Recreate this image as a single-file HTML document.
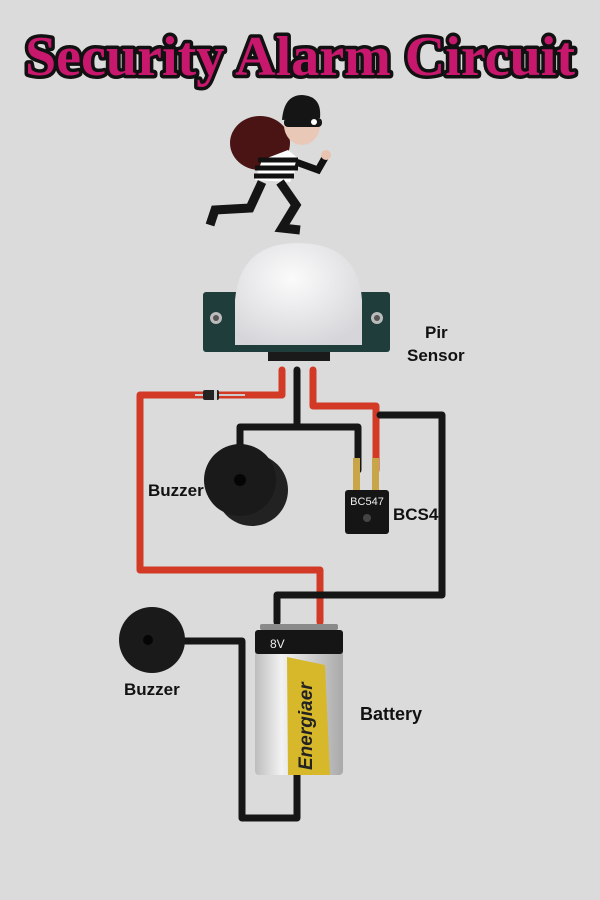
<!DOCTYPE html>
<html><head><meta charset="utf-8"><style>
body{margin:0;background:#dadada}
svg{display:block}
</style></head><body>
<svg width="600" height="900" viewBox="0 0 600 900" xmlns="http://www.w3.org/2000/svg" style="font-family:'Liberation Sans',sans-serif">
<defs>
<linearGradient id="silver" x1="0" x2="1"><stop offset="0" stop-color="#bdbdbd"/><stop offset="0.3" stop-color="#f2f2f2"/><stop offset="1" stop-color="#a9a9a9"/></linearGradient>
<radialGradient id="dome" cx="0.45" cy="0.35" r="0.7"><stop offset="0" stop-color="#fbfbfb"/><stop offset="1" stop-color="#d6d6da"/></radialGradient>
</defs>
<rect width="600" height="900" fill="#dbdbdb"/>
<!-- Title -->
<text x="300" y="75" text-anchor="middle" style="font-family:'Liberation Serif',serif;font-weight:bold" font-size="56" fill="#c8186e" stroke="#111" stroke-width="7" paint-order="stroke" stroke-linejoin="round" textLength="550" lengthAdjust="spacingAndGlyphs">Security Alarm Circuit</text>

<!-- Thief -->
<ellipse cx="260" cy="143" rx="30" ry="27" fill="#4a1414"/>
<path d="M288 150 L262 160 L255 180 L290 182 L300 160Z" fill="#fff"/>
<g stroke="#111" stroke-width="5"><line x1="258" y1="160" x2="298" y2="160"/><line x1="255" y1="168" x2="298" y2="168"/><line x1="254" y1="176" x2="294" y2="176"/></g>
<path d="M296 162 L318 170 L326 156" stroke="#111" stroke-width="7" fill="none"/>
<circle cx="326" cy="155" r="5" fill="#e7c3b0"/>
<ellipse cx="302" cy="125" rx="18" ry="20" fill="#e9c8b8"/>
<path d="M282 120 Q284 95 302 95 Q322 96 320 118Z" fill="#151515"/>
<rect x="284" y="118" width="38" height="9" rx="4" fill="#151515"/>
<circle cx="314" cy="122" r="3" fill="#fff"/>
<path d="M262 182 L250 208 L215 210 L210 225" stroke="#151515" stroke-width="9" fill="none"/>
<path d="M280 182 L296 205 L282 228 L300 230" stroke="#151515" stroke-width="9" fill="none"/>

<!-- PIR board -->
<rect x="203" y="292" width="187" height="60" rx="3" fill="#1e3d3b"/>
<circle cx="216" cy="318" r="6" fill="#bbb"/><circle cx="216" cy="318" r="3" fill="#555"/>
<circle cx="377" cy="318" r="6" fill="#bbb"/><circle cx="377" cy="318" r="3" fill="#555"/>
<path d="M235 345 L235 300 Q240 243 298 243 Q358 243 362 300 L362 345Z" fill="url(#dome)"/>
<rect x="268" y="352" width="62" height="9" fill="#1a1a1a"/>

<!-- wires -->
<g fill="none" stroke-width="7" stroke-linejoin="round" stroke-linecap="round">
<path d="M282 370 L282 395 L140 395 L140 570 L320 570 L320 622" stroke="#d23a25"/>
<path d="M297 370 L297 427 M240 445 L240 427 L358 427 L358 470" stroke="#161616"/>
<path d="M313 370 L313 406 L376 406 L376 470" stroke="#d23a25"/>
<path d="M380 415 L442 415 L442 595 L277 595 L277 622" stroke="#161616"/>
<path d="M185 641 L242 641 L242 818 L297 818 L297 775" stroke="#161616"/>
</g>
<rect x="203" y="390" width="16" height="10" rx="2" fill="#222"/><rect x="214" y="390" width="3" height="10" fill="#ccc"/>
<g stroke="#ccc" stroke-width="2"><line x1="195" y1="395" x2="203" y2="395"/><line x1="219" y1="395" x2="245" y2="395"/></g>

<!-- buzzer 1 -->
<ellipse cx="252" cy="490" rx="36" ry="36" fill="#222"/>
<ellipse cx="240" cy="480" rx="36" ry="36" fill="#1a1a1a"/>
<circle cx="240" cy="480" r="6" fill="#050505"/>

<!-- transistor -->
<rect x="353" y="458" width="7" height="34" fill="#c8a648"/><rect x="372" y="458" width="7" height="34" fill="#c8a648"/>
<rect x="345" y="490" width="44" height="44" rx="3" fill="#151515"/>
<text x="367" y="505" text-anchor="middle" font-size="11" fill="#eee">BC547</text>
<circle cx="367" cy="518" r="4" fill="#444"/>

<!-- buzzer 2 -->
<circle cx="152" cy="640" r="33" fill="#1a1a1a"/>
<circle cx="148" cy="640" r="5" fill="#050505"/>

<!-- battery -->
<rect x="260" y="624" width="78" height="6" rx="2" fill="#8a8a8a"/>
<rect x="255" y="630" width="88" height="145" rx="4" fill="url(#silver)"/>
<rect x="255" y="630" width="88" height="24" rx="3" fill="#151515"/>
<text x="270" y="648" font-size="12" fill="#eee">8V</text>
<path d="M287 657 L325 665 L330 775 L288 775Z" fill="#d6b82a"/>
<text transform="translate(312,770) rotate(-90)" font-size="19" font-weight="bold" font-style="italic" fill="#222">Energiaer</text>

<!-- labels -->
<g font-weight="bold" font-size="17" fill="#111">
<text x="425" y="338">Pir</text>
<text x="407" y="361">Sensor</text>
<text x="148" y="496">Buzzer</text>
<text x="393" y="520">BCS4</text>
<text x="124" y="695">Buzzer</text>
<text x="360" y="720" font-size="18">Battery</text>
</g>
</svg>
</body></html>
